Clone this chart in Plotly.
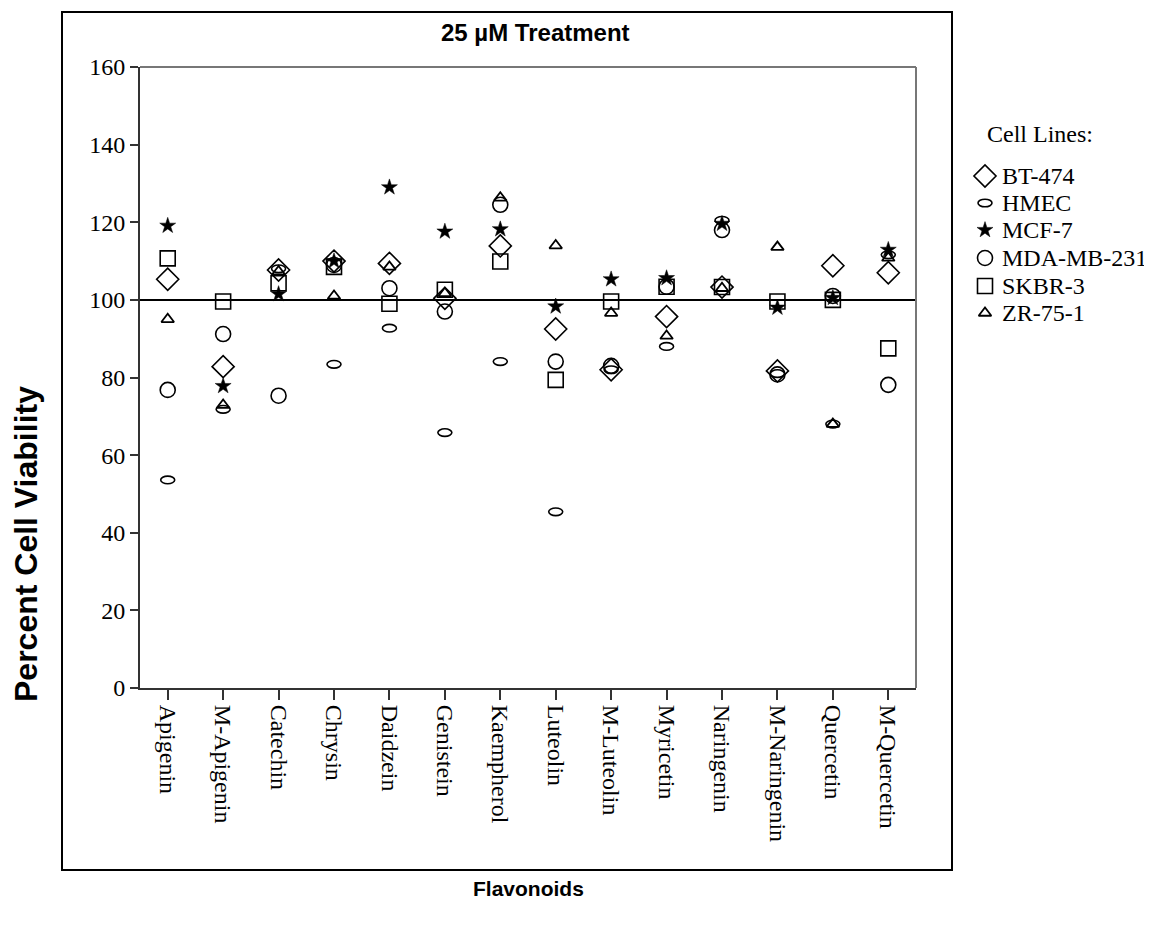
import plotly.graph_objects as go

categories = ["Apigenin", "M-Apigenin", "Catechin", "Chrysin", "Daidzein", "Genistein",
              "Kaempherol", "Luteolin", "M-Luteolin", "Myricetin", "Naringenin",
              "M-Naringenin", "Quercetin", "M-Quercetin"]

bt474 = [105.3, 82.8, 107.7, 110.0, 109.4, 100.4, 113.9, 92.5, 82.0, 95.7, 103.3, 81.7, 108.8, 107.0]
hmec = [53.6, 71.8, 108.0, 83.4, 92.7, 65.8, 84.1, 45.4, 82.0, 88.0, 120.5, 81.0, 68.0, 111.6]
mcf7 = [119.1, 77.8, 101.5, 110.0, 129.0, 117.6, 118.2, 98.3, 105.3, 105.6, 119.6, 98.0, 100.5, 112.9]
mda_mb_231 = [76.8, 91.2, 75.3, 109.0, 103.0, 97.0, 124.5, 84.1, 83.0, 103.4, 118.0, 80.8, 101.0, 78.1]
skbr3 = [110.7, 99.6, 104.3, 108.5, 99.0, 102.6, 109.9, 79.4, 99.6, 103.4, 103.3, 99.6, 100.0, 87.5]
zr751 = [95.0, 72.9, 107.3, 101.0, 108.5, 101.7, 126.3, 114.0, 96.6, 90.7, 103.0, 113.6, 68.0, 110.8]

series_names = ["BT-474", "HMEC", "MCF-7", "MDA-MB-231", "SKBR-3", "ZR-75-1"]
y_ticks = [0, 20, 40, 60, 80, 100, 120, 140, 160]
reference_level = 100

W, H = 1152, 930
OFF = 8                      # page body margin offset
L, T = 140 - OFF, 67 - OFF
PW, PH = 1012, 621           # plot pixel size
MAIN_W = 776                 # main axes pixel width


def px(xpix):
    return (xpix - OFF - L) / PW


def py(ypix):
    return (T + PH - (ypix - OFF)) / PH


SERIF = "Liberation Serif, Times New Roman, serif"
SANS = "Liberation Sans, Arial, sans-serif"

styles = {
    "BT-474": dict(symbol="diamond-open", size=17, line=dict(width=1.6, color="black"), color="black"),
    "MCF-7": dict(symbol="star", size=12, line=dict(width=0.5, color="black"), color="black"),
    "MDA-MB-231": dict(symbol="circle-open", size=15, line=dict(width=1.6, color="black"), color="black"),
    "SKBR-3": dict(symbol="square-open", size=15, line=dict(width=1.6, color="black"), color="black"),
    "ZR-75-1": dict(symbol="triangle-up-open", size=11, line=dict(width=1.8, color="black"), color="black"),
}
data_map = {"BT-474": bt474, "MCF-7": mcf7, "MDA-MB-231": mda_mb_231,
            "SKBR-3": skbr3, "ZR-75-1": zr751}

fig = go.Figure()

for name in ["BT-474", "MCF-7", "MDA-MB-231", "SKBR-3", "ZR-75-1"]:
    fig.add_trace(go.Scatter(x=categories, y=data_map[name], mode="markers", name=name,
                             marker=styles[name], showlegend=False,
                             xaxis="x", yaxis="y", cliponaxis=False))

shapes = []
# HMEC: horizontal ellipses anchored at data points
for c, v in zip(categories, hmec):
    shapes.append(dict(type="circle", xref="x", yref="y", xsizemode="pixel", ysizemode="pixel",
                       xanchor=c, yanchor=v, x0=-7, x1=7, y0=-3.8, y1=3.8,
                       line=dict(color="black", width=1.6)))

# reference line at 100
shapes.append(dict(type="line", xref="x domain", yref="y", x0=0, x1=1,
                   y0=reference_level, y1=reference_level,
                   line=dict(color="black", width=2)))

# gray top and right frame of plot area
shapes.append(dict(type="line", xref="x domain", yref="y domain", x0=0, x1=1, y0=1, y1=1,
                   line=dict(color="#777", width=2)))
shapes.append(dict(type="line", xref="x domain", yref="y domain", x0=1, x1=1, y0=0, y1=1,
                   line=dict(color="#777", width=2)))

# outer frame
shapes.append(dict(type="rect", xref="paper", yref="paper",
                   x0=px(62), x1=px(952), y0=py(870), y1=py(12),
                   line=dict(color="black", width=2)))

# ---- manual legend on helper axes ----
legend_rows = [176, 203, 230, 258, 286, 313]
for name, row in zip(series_names, legend_rows):
    if name == "HMEC":
        shapes.append(dict(type="circle", xref="x2", yref="y2", xsizemode="pixel", ysizemode="pixel",
                           xanchor=0.5, yanchor=row, x0=-7, x1=7, y0=-3.8, y1=3.8,
                           line=dict(color="black", width=1.6)))
    else:
        fig.add_trace(go.Scatter(x=[0.5], y=[row], mode="markers", marker=styles[name],
                                 showlegend=False, xaxis="x2", yaxis="y2", hoverinfo="skip",
                                 cliponaxis=False))

annotations = []
for name, row in zip(series_names, legend_rows):
    annotations.append(dict(x=px(1000), y=py(row), xref="paper", yref="paper", text=name,
                            showarrow=False, xanchor="left", yanchor="middle",
                            font=dict(family=SERIF, size=24, color="black")))
annotations.append(dict(x=px(1040), y=py(134), xref="paper", yref="paper", text="Cell Lines:",
                        showarrow=False, xanchor="center", yanchor="middle",
                        font=dict(family=SERIF, size=24, color="black")))

# titles
annotations.append(dict(x=px(535), y=py(33), xref="paper", yref="paper", text="<b>25 µM Treatment</b>",
                        showarrow=False, xanchor="center", yanchor="middle",
                        font=dict(family=SANS, size=24, color="black")))
annotations.append(dict(x=px(528), y=py(888), xref="paper", yref="paper", text="<b>Flavonoids</b>",
                        showarrow=False, xanchor="center", yanchor="middle",
                        font=dict(family=SANS, size=21, color="black")))
annotations.append(dict(x=px(26), y=py(544), xref="paper", yref="paper",
                        text="<b>Percent Cell Viability</b>", textangle=-90,
                        showarrow=False, xanchor="center", yanchor="middle",
                        font=dict(family=SANS, size=32, color="black")))

# helper axes (legend marker placement, pixel rows)
x2_lo, x2_hi = px(975), px(995)
y2_top_pix, y2_bot_pix = 67, 688

fig.update_layout(
    width=W, height=H,
    margin=dict(l=L, r=W - L - PW, t=T, b=H - T - PH, pad=0),
    paper_bgcolor="white", plot_bgcolor="white",
    showlegend=False,
    xaxis=dict(domain=[0, MAIN_W / PW], type="category", categoryorder="array",
               categoryarray=categories, range=[-0.5, len(categories) - 0.5],
               showgrid=False, zeroline=False, ticks="outside", ticklen=10, tickwidth=2,
               tickcolor="#333", showline=True, linecolor="#333", linewidth=2,
               tickangle=90, tickfont=dict(family=SERIF, size=24, color="black")),
    yaxis=dict(range=[0, 160], tickvals=y_ticks, showgrid=False, zeroline=False,
               ticks="outside", ticklen=8, tickwidth=2, tickcolor="#333",
               showline=True, linecolor="#333", linewidth=2,
               tickfont=dict(family=SERIF, size=24, color="black")),
    xaxis2=dict(domain=[x2_lo, x2_hi], range=[0, 1], visible=False, anchor="y2"),
    yaxis2=dict(domain=[0, 1], range=[y2_bot_pix, y2_top_pix], visible=False, anchor="x2"),
    shapes=shapes,
    annotations=annotations,
)

fig.write_html("out.html")
